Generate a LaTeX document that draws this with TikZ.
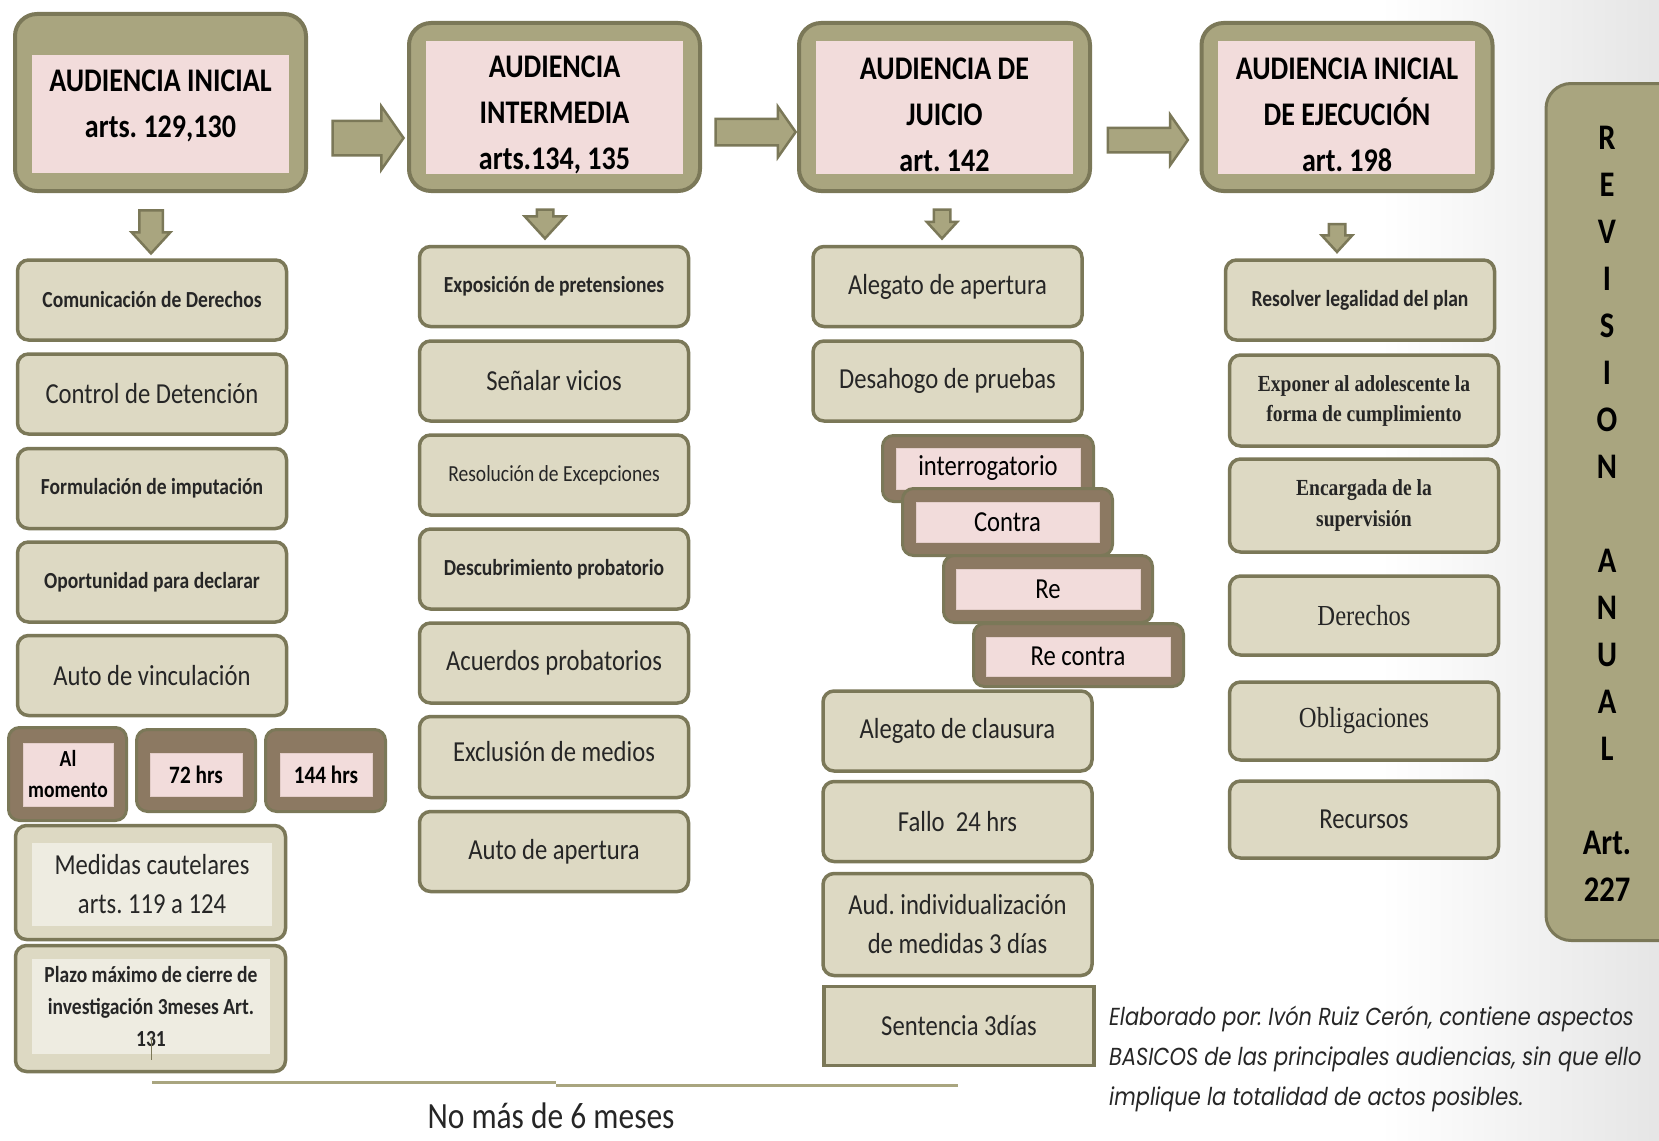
\documentclass[tikz,border=0pt]{standalone}
\usepackage{fontspec}
\setmainfont{Carlito}[FakeStretch=0.85]
\newfontfamily\timesfont{Liberation Serif}[FakeStretch=0.85]
\newfontfamily\gothicfont{Poppins}[FakeStretch=0.85]
\frenchspacing
\usetikzlibrary{shapes.arrows}
\definecolor{oliveA}{HTML}{A9A57F}
\definecolor{oliveB}{HTML}{7B7858}
\definecolor{pinkA}{HTML}{F2DCDB}
\definecolor{tanA}{HTML}{DDD9C3}
\definecolor{tanB}{HTML}{EEECE1}
\definecolor{brownA}{HTML}{8C7962}
\definecolor{inkA}{HTML}{262626}
\newcommand{\hdrsize}{\fontsize{33}{46}\selectfont\bfseries}
\newcommand{\bigsize}{\fontsize{29}{39}\selectfont}
\newcommand{\smallsize}{\fontsize{23}{31}\selectfont}
\tikzset{
  hdr/.style={draw=oliveB, line width=4pt, fill=oliveA, rounded corners=22pt, minimum width=291pt, minimum height=168pt, inner sep=0pt},
  hdrin/.style={fill=pinkA, minimum width=257pt, minimum height=133pt, inner sep=0pt},
  hdrtxt/.style={font=\hdrsize, align=center, inner sep=0pt},
  item/.style={draw=oliveB, line width=3.5pt, fill=tanA, rounded corners=11pt, minimum width=269pt, minimum height=80pt, inner sep=0pt, align=center, text=inkA, font=\bigsize},
  itemb/.style={item, font=\smallsize\bfseries},
  itemin/.style={fill=tanB, inner sep=0pt, align=center, text=inkA},
  hrs/.style={draw=oliveB, line width=3pt, fill=brownA, rounded corners=11pt, inner sep=0pt},
  hrsin/.style={fill=pinkA, draw=pinkA!85!brownA, line width=1pt, inner sep=0pt, align=center, text=black},
  rarrow/.style={single arrow, draw=oliveB, fill=oliveA, line width=2.5pt, inner sep=0pt, single arrow tip angle=110},
  darrow/.style={rarrow, rotate=-90, single arrow tip angle=85}
}
\begin{document}
\begin{tikzpicture}[x=1pt, y=-1pt]
\shade[left color=white, right color=black!10] (1380,0) rectangle (1659,1140);
\useasboundingbox (0,0) rectangle (1659,1140);

\node[hdr, minimum height=177pt] (h1) at (160.5,102.5) {};
\node[hdrin, minimum height=118pt] (h1p) at (160.5,114) {};
\node[hdrtxt] (h1t) at (160.5,106) {AUDIENCIA INICIAL\\arts. 129,130};
\node[hdr] (h2) at (554.5,107) {};
\node[hdrin] (h2p) at (554.5,107.5) {};
\node[hdrtxt] (h2t) at (554.5,115) {AUDIENCIA\\INTERMEDIA\\arts.134, 135};
\node[hdr] (h3) at (944.5,107) {};
\node[hdrin] (h3p) at (944,107.5) {};
\node[hdrtxt] (h3t) at (944.5,115) {AUDIENCIA DE\\JUICIO\\art. 142};
\node[hdr] (h4) at (1347,107) {};
\node[hdrin] (h4p) at (1346.5,107.5) {};
\node[hdrtxt] (h4t) at (1347,115) {AUDIENCIA INICIAL\\DE EJECUCIÓN\\art. 198};

\node[rarrow, minimum height=71pt, minimum width=61pt, inner ysep=16pt, single arrow head extend=14.5pt] (r1) at (362,138) {};
\node[rarrow, minimum height=80pt, minimum width=48pt, inner ysep=12pt, single arrow head extend=12pt] (r2) at (751,132) {};
\node[rarrow, minimum height=80pt, minimum width=48pt, inner ysep=11pt, single arrow head extend=13pt] (r3) at (1143.5,140) {};
\node[darrow, minimum height=43pt, minimum width=36pt, inner ysep=10.5pt, single arrow head extend=7.5pt] (d1) at (151,225.5) {};
\node[darrow, minimum height=29pt, minimum width=38pt, inner ysep=7pt, single arrow head extend=12pt] (d2) at (545,219.5) {};
\node[darrow, minimum height=29pt, minimum width=28pt, inner ysep=7pt, single arrow head extend=7pt] (d3) at (942,219.5) {};
\node[darrow, minimum height=28pt, minimum width=28pt, inner ysep=7pt, single arrow head extend=7pt] (d4) at (1337,233.5) {};

\node[itemb] (c1) at (152,300) {Comunicación de Derechos};
\node[item] (c2) at (152,394) {Control de Detención};
\node[itemb] (c3) at (152,488.5) {Formulación de imputación};
\node[itemb] (c4) at (152,582) {Oportunidad para declarar};
\node[item] (c5) at (152,675.5) {Auto de vinculación};
\node[hrs, minimum width=118pt, minimum height=93pt] (t1) at (67.5,774) {};
\node[hrsin, minimum width=90pt, minimum height=63pt, font=\smallsize\bfseries] (t1p) at (68,774.5) {Al\\momento};
\node[hrs, minimum width=119pt, minimum height=82pt] (t2) at (196,770.5) {};
\node[hrsin, minimum width=92pt, minimum height=43pt, font=\fontsize{25}{30}\selectfont\bfseries] (t2p) at (196,774.5) {72 hrs};
\node[hrs, minimum width=120pt, minimum height=82pt] (t3) at (325.5,770.5) {};
\node[hrsin, minimum width=92pt, minimum height=43pt, font=\fontsize{25}{30}\selectfont\bfseries] (t3p) at (326,774.5) {144 hrs};
\node[item, minimum width=270pt, minimum height=114pt] (m1) at (150.5,882.5) {};
\node[itemin, minimum width=240pt, minimum height=83pt, font=\bigsize] (m1p) at (152,884.5) {Medidas cautelares\\arts. 119 a 124};
\node[item, minimum width=270pt, minimum height=126pt] (m2) at (150.5,1008.5) {};
\node[itemin, minimum width=238pt, minimum height=95pt, font=\fontsize{23}{32}\selectfont\bfseries] (m2p) at (151,1006.5) {Plazo máximo de cierre de\\investigación 3meses Art.\\131};
\draw[oliveB, line width=1pt] (151,1037) -- (151,1060);

\node[itemb] (b1) at (554,286.5) {Exposición de pretensiones};
\node[item] (b2) at (554,381) {Señalar vicios};
\node[item, font=\smallsize] (b3) at (554,475) {Resolución de Excepciones};
\node[itemb] (b4) at (554,569) {Descubrimiento probatorio};
\node[item] (b5) at (554,663) {Acuerdos probatorios};
\node[item, minimum height=81pt, text depth=12pt] (b6) at (554,757) {Exclusión de medios};
\node[item] (b7) at (554,851.5) {Auto de apertura};

\node[item] (j1) at (947.5,286.5) {Alegato de apertura};
\node[item] (j2) at (947.5,381) {Desahogo de pruebas};
\node[hrs, minimum width=211pt, minimum height=66pt] (q1) at (988,468.5) {};
\node[hrsin, minimum width=184pt, minimum height=41pt, font=\bigsize] (q1p) at (988,468.5) {interrogatorio};
\node[hrs, minimum width=210pt, minimum height=67pt] (q2) at (1007.5,522) {};
\node[hrsin, minimum width=183pt, minimum height=40pt, font=\bigsize] (q2p) at (1007.5,522) {Contra};
\node[hrs, minimum width=209pt, minimum height=67pt] (q3) at (1048,589) {};
\node[hrsin, minimum width=184pt, minimum height=40pt, font=\bigsize] (q3p) at (1048,589) {Re};
\node[hrs, minimum width=210pt, minimum height=63pt] (q4) at (1078.5,655) {};
\node[hrsin, minimum width=184pt, minimum height=39pt, font=\bigsize] (q4p) at (1078,656.5) {Re contra};
\node[item] (j3) at (957.5,731) {Alegato de clausura};
\node[item] (j4) at (957.5,821.5) {Fallo\ \ 24 hrs};
\node[item, minimum height=102pt, font=\fontsize{29}{39}\selectfont] (j5) at (957.5,924.5) {Aud. individualización\\de medidas 3 días};
\node[item, rounded corners=0pt, minimum width=270pt, minimum height=79pt] (j6) at (959,1026) {Sentencia 3días};

\node[itemb] (e1) at (1360,300) {Resolver legalidad del plan};
\node[item, minimum height=91pt, font=\timesfont\fontsize{23}{30}\selectfont\bfseries] (e2) at (1364,400.5) {Exponer al adolescente la\\forma de cumplimiento};
\node[item, minimum height=93pt, font=\timesfont\fontsize{23}{31}\selectfont\bfseries] (e3) at (1364,505.5) {Encargada de la\\supervisión};
\node[item, minimum height=79pt, font=\timesfont\bigsize] (e4) at (1364,615.5) {Derechos};
\node[item, minimum height=78pt, font=\timesfont\bigsize] (e5) at (1364,721) {Obligaciones};
\node[item, minimum height=77pt] (e6) at (1364,819.5) {Recursos};

\node[draw=oliveB, line width=3pt, fill=oliveA, rounded corners=25pt, minimum width=152pt, minimum height=857pt] (rv) at (1622,512) {};
\node[font=\fontsize{36}{47}\selectfont\bfseries, align=center, inner sep=0pt] (rvt) at (1607,514) {R\\E\\V\\I\\S\\I\\O\\N\\[47pt]A\\N\\U\\A\\L\\[47pt]Art.\\227};

\node[font=\gothicfont\itshape\fontsize{24.6}{40}\selectfont, align=left, anchor=west, text=inkA, inner sep=0pt] (note) at (1109,1059) {Elaborado por: Ivón Ruiz Cerón, contiene aspectos\\BASICOS de las principales audiencias, sin que ello\\implique la totalidad de actos posibles.};

\coordinate (l1) at (152,1082);
\coordinate (l2) at (556,1082);
\coordinate (l3) at (556,1085);
\coordinate (l4) at (958,1085);
\draw[oliveA, line width=3pt] (l1) -- (l2);
\draw[oliveA, line width=3pt] (l3) -- (l4);
\node[font=\fontsize{37}{40}\selectfont, text=inkA] (six) at (551,1116) {No más de 6 meses};
\end{tikzpicture}
\end{document}
